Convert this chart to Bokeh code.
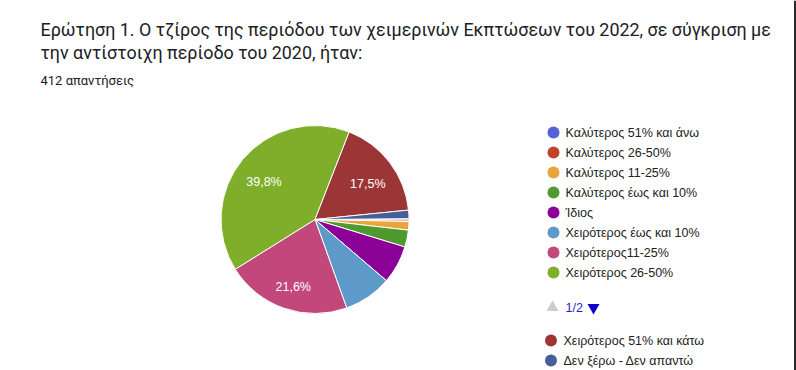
import math
from bokeh.plotting import figure
from bokeh.models import ColumnDataSource, Range1d, Span
from bokeh.core.properties import value
from bokeh.embed import file_html
from bokeh.resources import INLINE

# ---------------- data ----------------
title_lines = [
    "Ερώτηση 1. Ο τζίρος της περιόδου των χειμερινών Εκπτώσεων του 2022, σε σύγκριση με",
    "την αντίστοιχη περίοδο του 2020, ήταν:",
]
subtitle = "412 απαντήσεις"
categories = [
    "Καλύτερος 51% και άνω",
    "Καλύτερος 26-50%",
    "Καλύτερος 11-25%",
    "Καλύτερος έως και 10%",
    "Ίδιος",
    "Χειρότερος έως και 10%",
    "Χειρότερος11-25%",
    "Χειρότερος 26-50%",
    "Χειρότερος 51% και κάτω",
    "Δεν ξέρω - Δεν απαντώ",
]
counts = [1, 1, 6, 12, 27, 34, 89, 164, 72, 6]
colors = ["#5462d6", "#c4422a", "#e9a43a", "#4f9a2e", "#8b0096",
          "#5e9ac9", "#c2477b", "#7eae2a", "#9c3636", "#475f96"]
legend_page_size = 8
page_label = "1/2"

# ---------------- layout (page pixels) ----------------
W, H = 796, 370
def X(px):
    return px
def Y(py):
    return H - py

p = figure(width=W, height=H, output_backend="svg", toolbar_location=None,
           x_range=Range1d(0, W), y_range=Range1d(0, H),
           x_axis_type=None, y_axis_type=None, min_border=0)
p.grid.visible = False
p.outline_line_color = None
p.background_fill_color = "white"
p.border_fill_color = "white"

# title
p.text(x=[X(40)] * len(title_lines), y=[Y(29), Y(52)], text=title_lines,
       text_font=value("Roboto"), text_font_size="17.9px", text_color="#202124",
       text_baseline="middle", text_align="left")
p.text(x=[X(40)], y=[Y(80)], text=[subtitle],
       text_font=value("Roboto"), text_font_size="13px", text_color="#202124",
       text_baseline="middle", text_align="left")

# pie
total = sum(counts)
cx, cy, r = X(314.5), Y(219), 94
start = math.radians(0.5)
starts, ends, lx, ly, labels = [], [], [], [], []
a = start
for c in counts:
    th = 2 * math.pi * c / total
    starts.append(a - th)
    ends.append(a)
    mid = a - th / 2
    pct = 100 * c / total
    if pct >= 10:
        lx.append(cx + 0.705 * r * math.cos(mid))
        ly.append(cy + 0.705 * r * math.sin(mid))
        labels.append(f"{pct:.1f}%".replace(".", ","))
    a -= th

src = ColumnDataSource(dict(x=[cx] * len(counts), y=[cy] * len(counts),
                            s=starts, e=ends, color=colors))
p.wedge(x="x", y="y", radius=r, start_angle="s", end_angle="e",
        fill_color="color", line_color="white", line_width=1, source=src)
p.text(x=lx, y=ly, text=labels, text_font=value("Liberation Sans"),
       text_font_size="12.5px", text_color="white", text_align="center",
       text_baseline="middle", y_offset=5)

# legend page 1
n1 = legend_page_size
leg_y = [Y(132 + 20 * i) for i in range(n1)]
p.scatter(x=[X(553)] * n1, y=leg_y, size=12, marker="circle",
          fill_color=colors[:n1], line_color=None)
p.text(x=[X(565)] * n1, y=leg_y, text=categories[:n1],
       text_font=value("Liberation Sans"), text_font_size="12.5px",
       text_color="#222222", text_baseline="middle", text_align="left")

# pager
p.scatter(x=[X(552)], y=[Y(307)], size=12, marker="triangle",
          fill_color="#cccccc", line_color=None)
p.text(x=[X(565)], y=[Y(307)], text=[page_label],
       text_font=value("Liberation Sans"), text_font_size="12.5px",
       text_color="#2a1fcc", text_baseline="middle", text_align="left")
p.scatter(x=[X(593)], y=[Y(307)], size=12, marker="inverted_triangle",
          fill_color="#1100cc", line_color=None)

# legend remainder
rest = categories[n1:]
n2 = len(rest)
leg2_y = [Y(340 + 20 * i) for i in range(n2)]
p.scatter(x=[X(550.5)] * n2, y=leg2_y, size=12, marker="circle",
          fill_color=colors[n1:], line_color=None)
p.text(x=[X(563)] * n2, y=leg2_y, text=rest,
       text_font=value("Liberation Sans"), text_font_size="12.5px",
       text_color="#222222", text_baseline="middle", text_align="left")

# right card border
p.add_layout(Span(location=X(794.5), dimension="height",
                  line_color="#2b2b2b", line_width=2))

open("out.html", "w").write(file_html(p, INLINE))
